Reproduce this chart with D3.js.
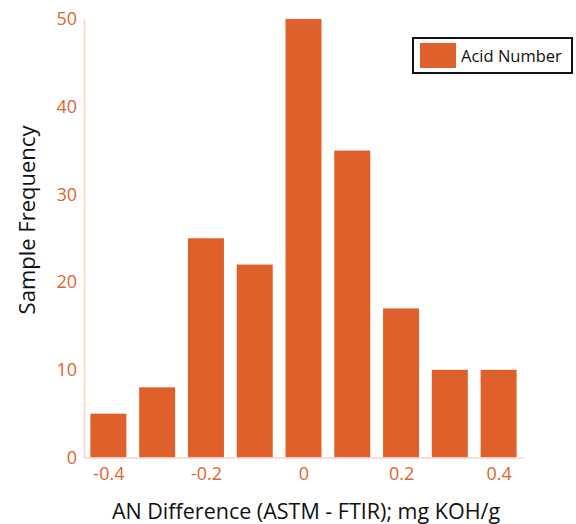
<!DOCTYPE html>
<html lang="en">
  <head>
    <meta charset="UTF-8" />
    <title>AN Difference Histogram</title>
    <script src="https://d3js.org/d3.v7.min.js"></script>
    <style>
      body { margin: 0; background: #fff; }
      text { font-family: 'Open Sans', 'Noto Sans', sans-serif; }
    </style>
  </head>
  <body>
    <svg width="576" height="524"></svg>
    <script>
      var bins = [-0.4, -0.3, -0.2, -0.1, 0, 0.1, 0.2, 0.3, 0.4]
      var counts = [5, 8, 25, 22, 50, 35, 17, 10, 10]
      var xTicks = [-0.4, -0.2, 0, 0.2, 0.4]
      var yTicks = [0, 10, 20, 30, 40, 50]
      var seriesName = 'Acid Number'

      var barColor = '#df602b'
      var axisColor = '#f6d3c4'
      var labelColor = '#e0642f'

      var svg = d3.select('svg')

      var x = d3.scaleLinear().domain([-0.45, 0.45]).range([84, 523])
      var y = d3.scaleLinear().domain([0, 50]).range([457.5, 19])
      var barWidth = 36

      // 柱子
      svg.selectAll('.bar')
        .data(bins)
        .enter()
        .append('rect')
        .attr('class', 'bar')
        .attr('x', function(d) { return x(d) - barWidth / 2 })
        .attr('y', function(d, i) { return y(counts[i]) })
        .attr('width', barWidth)
        .attr('height', function(d, i) { return y(0) - y(counts[i]) })
        .attr('fill', barColor)

      // 坐标轴
      var xAxis = svg.append('g')
        .attr('transform', `translate(0,${y(0)})`)
        .call(d3.axisBottom(x).tickValues(xTicks).tickSize(0).tickPadding(10)
          .tickFormat(function(d) { return d === 0 ? '0' : d.toFixed(1) }))
      var yAxis = svg.append('g')
        .attr('transform', `translate(${x(-0.45)},0)`)
        .call(d3.axisLeft(y).tickValues(yTicks).tickSize(0).tickPadding(7))

      ;[xAxis, yAxis].forEach(function(a) {
        a.select('.domain').attr('stroke', axisColor).attr('stroke-width', 1.5)
        a.selectAll('text')
          .attr('fill', labelColor)
          .style('font-size', '18px')
      })

      // 轴标题
      svg.append('text')
        .attr('x', 306)
        .attr('y', 519)
        .attr('text-anchor', 'middle')
        .style('font-size', '21.5px')
        .attr('fill', '#111')
        .text('AN Difference (ASTM - FTIR); mg KOH/g')

      svg.append('text')
        .attr('transform', 'translate(35,220) rotate(-90)')
        .attr('text-anchor', 'middle')
        .style('font-size', '22px')
        .attr('fill', '#111')
        .text('Sample Frequency')

      // 图例
      var legend = svg.append('g')
      legend.append('rect')
        .attr('x', 413).attr('y', 38)
        .attr('width', 159).attr('height', 35)
        .attr('fill', '#fff')
        .attr('stroke', '#111')
        .attr('stroke-width', 2)
      legend.append('rect')
        .attr('x', 420).attr('y', 43)
        .attr('width', 36).attr('height', 25)
        .attr('fill', barColor)
      legend.append('text')
        .attr('x', 461).attr('y', 61.5)
        .style('font-size', '16.5px')
        .attr('fill', '#111')
        .text(seriesName)
    </script>
  </body>
</html>
